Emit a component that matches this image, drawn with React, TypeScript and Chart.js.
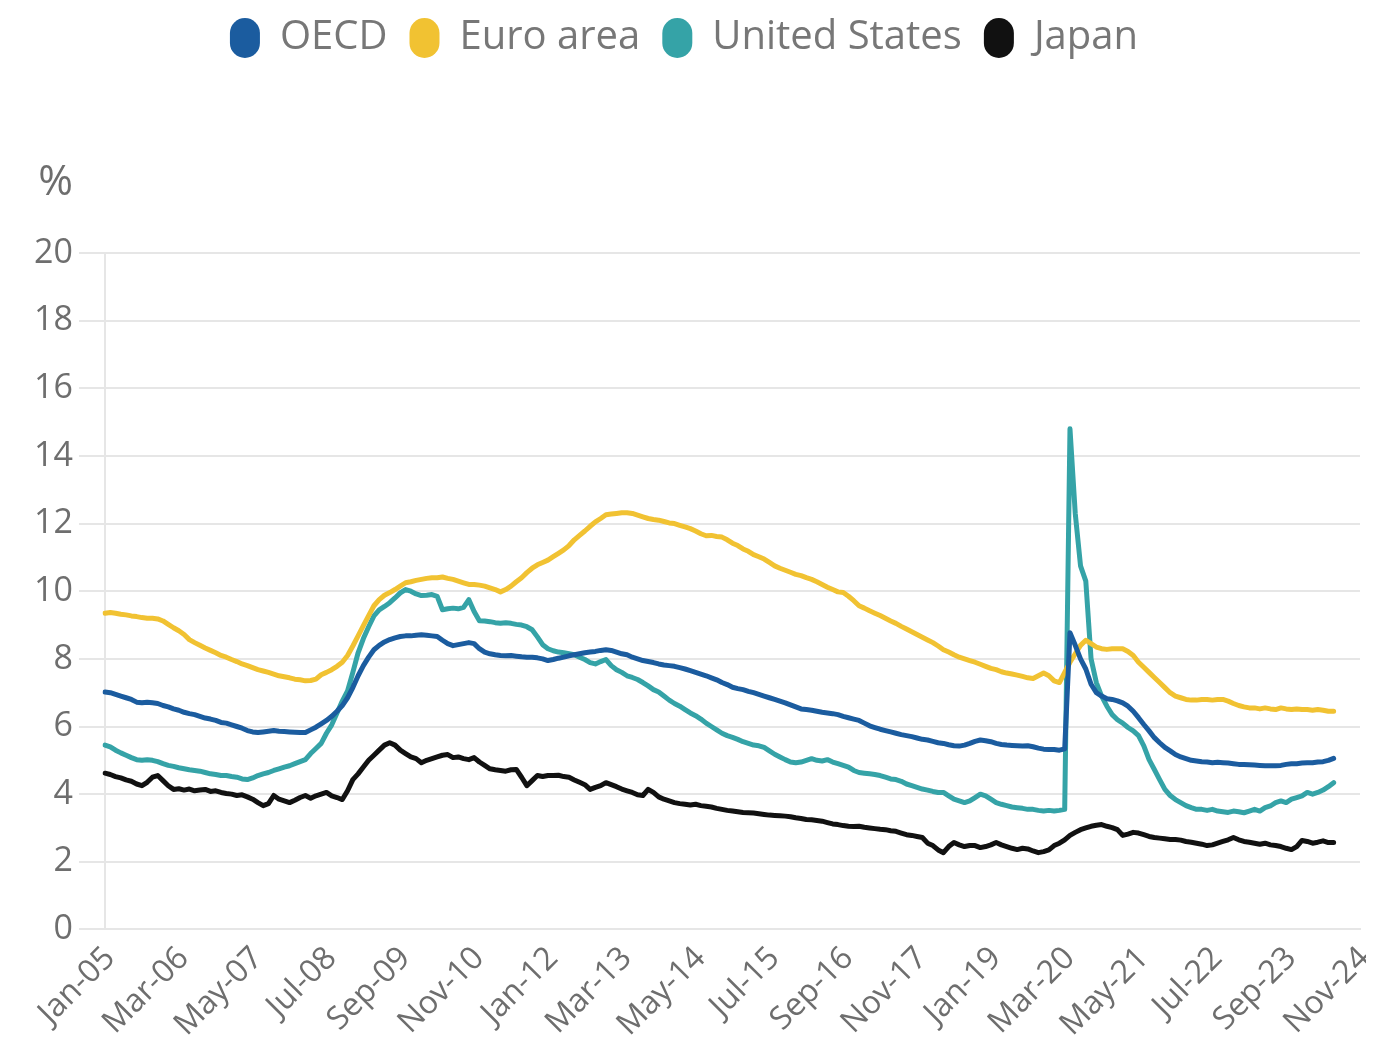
import { useEffect, useRef } from 'react';
import { Chart, registerables } from 'chart.js';

Chart.register(...registerables);

const MONTH_NAMES = ['Jan', 'Feb', 'Mar', 'Apr', 'May', 'Jun', 'Jul', 'Aug', 'Sep', 'Oct', 'Nov', 'Dec'];

// Monthly categories Jan-05 .. Nov-24
const categories: string[] = [];
for (let y = 2005; y <= 2024; y++) {
  for (let m = 0; m < 12; m++) {
    if (y === 2024 && m > 10) break;
    categories.push(`${MONTH_NAMES[m]}-${String(y).slice(2)}`);
  }
}

const tickLabels = [
  'Jan-05', 'Mar-06', 'May-07', 'Jul-08', 'Sep-09', 'Nov-10', 'Jan-12', 'Mar-13', 'May-14',
  'Jul-15', 'Sep-16', 'Nov-17', 'Jan-19', 'Mar-20', 'May-21', 'Jul-22', 'Sep-23', 'Nov-24',
];

const yTicks = [0, 2, 4, 6, 8, 10, 12, 14, 16, 18, 20];

// Monthly values Jan-05 .. Jun-24 (one row per year)
const oecd = [
  7.02, 7.00, 6.95, 6.90, 6.85, 6.80, 6.72, 6.70, 6.72, 6.70, 6.68, 6.62,
  6.58, 6.52, 6.48, 6.42, 6.38, 6.35, 6.30, 6.25, 6.22, 6.18, 6.12, 6.10,
  6.05, 6.00, 5.95, 5.88, 5.84, 5.82, 5.84, 5.86, 5.88, 5.86, 5.85, 5.84,
  5.83, 5.82, 5.82, 5.90, 5.98, 6.08, 6.18, 6.30, 6.45, 6.62, 6.85, 7.15,
  7.50, 7.80, 8.05, 8.27, 8.40, 8.50, 8.57, 8.62, 8.66, 8.68, 8.68, 8.70,
  8.71, 8.70, 8.68, 8.66, 8.55, 8.45, 8.39, 8.42, 8.45, 8.48, 8.45, 8.30,
  8.20, 8.15, 8.12, 8.10, 8.09, 8.10, 8.08, 8.06, 8.05, 8.05, 8.03, 8.00,
  7.95, 7.98, 8.02, 8.05, 8.09, 8.12, 8.15, 8.18, 8.20, 8.22, 8.25, 8.27,
  8.25, 8.20, 8.15, 8.12, 8.05, 8.00, 7.95, 7.92, 7.89, 7.85, 7.82, 7.80,
  7.78, 7.74, 7.70, 7.65, 7.60, 7.55, 7.50, 7.44, 7.38, 7.30, 7.24, 7.16,
  7.12, 7.09, 7.04, 7.00, 6.95, 6.90, 6.85, 6.80, 6.75, 6.70, 6.64, 6.58,
  6.52, 6.50, 6.48, 6.45, 6.42, 6.40, 6.38, 6.35, 6.30, 6.26, 6.22, 6.18,
  6.10, 6.02, 5.97, 5.92, 5.88, 5.84, 5.80, 5.76, 5.73, 5.70, 5.66, 5.62,
  5.60, 5.56, 5.52, 5.50, 5.46, 5.43, 5.42, 5.45, 5.50, 5.56, 5.60, 5.58,
  5.55, 5.50, 5.47, 5.45, 5.44, 5.43, 5.42, 5.43, 5.40, 5.36, 5.33, 5.32,
  5.32, 5.30, 5.34, 8.77, 8.40, 8.00, 7.70, 7.25, 7.00, 6.90, 6.82, 6.80,
  6.76, 6.70, 6.60, 6.45, 6.26, 6.06, 5.87, 5.67, 5.52, 5.38, 5.28, 5.17,
  5.10, 5.05, 5.00, 4.98, 4.96, 4.95, 4.93, 4.94, 4.93, 4.92, 4.90, 4.88,
  4.88, 4.87, 4.86, 4.85, 4.84, 4.84, 4.84, 4.85, 4.88, 4.90, 4.90, 4.92,
  4.93, 4.93, 4.95, 4.96, 5.00, 5.06,
];

const euroArea = [
  9.35, 9.37, 9.35, 9.32, 9.30, 9.27, 9.25, 9.22, 9.20, 9.20, 9.18, 9.12,
  9.02, 8.92, 8.83, 8.72, 8.57, 8.48, 8.40, 8.32, 8.25, 8.18, 8.10, 8.05,
  7.98, 7.92, 7.85, 7.80, 7.74, 7.68, 7.64, 7.60, 7.55, 7.50, 7.47, 7.44,
  7.40, 7.38, 7.35, 7.36, 7.40, 7.53, 7.60, 7.68, 7.78, 7.90, 8.10, 8.38,
  8.68, 8.98, 9.28, 9.57, 9.75, 9.88, 9.96, 10.05, 10.15, 10.25, 10.28, 10.32,
  10.35, 10.38, 10.40, 10.40, 10.42, 10.38, 10.35, 10.30, 10.25, 10.20, 10.20, 10.18,
  10.15, 10.10, 10.05, 9.98, 10.05, 10.15, 10.28, 10.40, 10.55, 10.68, 10.78, 10.85,
  10.92, 11.02, 11.12, 11.22, 11.35, 11.52, 11.65, 11.78, 11.92, 12.05, 12.15, 12.26,
  12.28, 12.30, 12.32, 12.32, 12.30, 12.25, 12.20, 12.15, 12.12, 12.10, 12.06, 12.02,
  12.00, 11.95, 11.90, 11.85, 11.78, 11.70, 11.64, 11.65, 11.62, 11.60, 11.52, 11.42,
  11.35, 11.25, 11.18, 11.08, 11.02, 10.95, 10.85, 10.75, 10.68, 10.62, 10.56, 10.50,
  10.46, 10.40, 10.35, 10.28, 10.20, 10.12, 10.05, 9.98, 9.96, 9.85, 9.72, 9.57,
  9.50, 9.42, 9.35, 9.28, 9.20, 9.12, 9.05, 8.96, 8.88, 8.80, 8.72, 8.64,
  8.56, 8.48, 8.38, 8.27, 8.20, 8.12, 8.05, 8.00, 7.95, 7.90, 7.84, 7.78,
  7.72, 7.68, 7.62, 7.58, 7.55, 7.52, 7.48, 7.44, 7.42, 7.50, 7.58, 7.50,
  7.35, 7.30, 7.60, 7.90, 8.15, 8.40, 8.55, 8.45, 8.35, 8.30, 8.28, 8.30,
  8.30, 8.30, 8.22, 8.10, 7.90, 7.75, 7.60, 7.45, 7.30, 7.15, 7.00, 6.90,
  6.85, 6.80, 6.78, 6.78, 6.80, 6.80, 6.78, 6.80, 6.80, 6.75, 6.68, 6.62,
  6.58, 6.55, 6.55, 6.52, 6.55, 6.52, 6.50, 6.55, 6.52, 6.50, 6.52, 6.50,
  6.50, 6.48, 6.50, 6.48, 6.45, 6.45,
];

const unitedStates = [
  5.45, 5.40, 5.30, 5.22, 5.15, 5.08, 5.02, 5.00, 5.02, 5.00, 4.96, 4.90,
  4.85, 4.82, 4.78, 4.75, 4.72, 4.70, 4.68, 4.64, 4.60, 4.58, 4.55, 4.55,
  4.52, 4.50, 4.45, 4.43, 4.48, 4.55, 4.60, 4.64, 4.70, 4.75, 4.80, 4.84,
  4.90, 4.96, 5.02, 5.20, 5.35, 5.50, 5.80, 6.05, 6.40, 6.75, 7.05, 7.60,
  8.18, 8.60, 8.95, 9.27, 9.45, 9.55, 9.66, 9.80, 9.95, 10.05, 10.00, 9.92,
  9.87, 9.88, 9.90, 9.85, 9.45, 9.48, 9.50, 9.48, 9.52, 9.75, 9.40, 9.13,
  9.12, 9.10, 9.07, 9.05, 9.07, 9.05, 9.02, 9.00, 8.95, 8.86, 8.65, 8.42,
  8.30, 8.24, 8.20, 8.18, 8.15, 8.12, 8.05, 7.98, 7.89, 7.85, 7.92, 7.98,
  7.80, 7.68, 7.60, 7.50, 7.45, 7.39, 7.30, 7.20, 7.09, 7.02, 6.90, 6.78,
  6.68, 6.60, 6.50, 6.40, 6.32, 6.22, 6.10, 6.00, 5.90, 5.80, 5.73, 5.68,
  5.62, 5.55, 5.50, 5.45, 5.43, 5.38, 5.28, 5.18, 5.10, 5.02, 4.95, 4.93,
  4.95, 5.00, 5.05, 5.00, 4.98, 5.02, 4.95, 4.90, 4.85, 4.80, 4.70, 4.64,
  4.62, 4.60, 4.58, 4.55, 4.50, 4.45, 4.43, 4.38, 4.30, 4.25, 4.20, 4.15,
  4.12, 4.08, 4.05, 4.05, 3.95, 3.85, 3.80, 3.75, 3.80, 3.90, 4.00, 3.95,
  3.85, 3.75, 3.70, 3.66, 3.62, 3.60, 3.58, 3.55, 3.55, 3.52, 3.50, 3.52,
  3.50, 3.52, 3.55, 14.80, 12.30, 10.75, 10.30, 8.00, 7.30, 6.90, 6.60, 6.35,
  6.20, 6.10, 5.97, 5.87, 5.73, 5.43, 5.02, 4.73, 4.43, 4.14, 3.96, 3.84,
  3.75, 3.66, 3.60, 3.55, 3.55, 3.52, 3.55, 3.50, 3.48, 3.46, 3.50, 3.48,
  3.45, 3.50, 3.55, 3.50, 3.60, 3.65, 3.75, 3.80, 3.75, 3.85, 3.90, 3.95,
  4.05, 4.00, 4.05, 4.12, 4.22, 4.34,
];

const japan = [
  4.62, 4.58, 4.52, 4.48, 4.42, 4.38, 4.30, 4.25, 4.35, 4.50, 4.55, 4.40,
  4.25, 4.14, 4.16, 4.12, 4.15, 4.10, 4.12, 4.14, 4.08, 4.10, 4.05, 4.02,
  4.00, 3.96, 3.98, 3.92, 3.85, 3.75, 3.66, 3.72, 3.96, 3.85, 3.80, 3.75,
  3.82, 3.90, 3.96, 3.88, 3.95, 4.00, 4.05, 3.95, 3.90, 3.84, 4.10, 4.43,
  4.60, 4.80, 5.00, 5.15, 5.30, 5.45, 5.52, 5.45, 5.30, 5.20, 5.10, 5.05,
  4.93, 5.00, 5.05, 5.10, 5.15, 5.17, 5.08, 5.10, 5.05, 5.02, 5.08, 4.95,
  4.85, 4.75, 4.72, 4.70, 4.68, 4.72, 4.73, 4.50, 4.25, 4.40, 4.55, 4.52,
  4.55, 4.55, 4.56, 4.52, 4.50, 4.42, 4.35, 4.28, 4.14, 4.20, 4.25, 4.34,
  4.28, 4.22, 4.15, 4.10, 4.05, 3.98, 3.96, 4.14, 4.05, 3.92, 3.85, 3.80,
  3.75, 3.72, 3.70, 3.68, 3.70, 3.66, 3.64, 3.62, 3.58, 3.55, 3.52, 3.50,
  3.48, 3.46, 3.45, 3.44, 3.42, 3.40, 3.38, 3.37, 3.36, 3.35, 3.33, 3.30,
  3.28, 3.25, 3.24, 3.22, 3.20, 3.16, 3.12, 3.10, 3.07, 3.05, 3.04, 3.05,
  3.02, 3.00, 2.98, 2.96, 2.95, 2.92, 2.90, 2.85, 2.80, 2.78, 2.75, 2.72,
  2.55, 2.48, 2.35, 2.27, 2.45, 2.57, 2.50, 2.45, 2.48, 2.48, 2.42, 2.45,
  2.50, 2.57, 2.50, 2.45, 2.40, 2.36, 2.40, 2.38, 2.32, 2.27, 2.30, 2.35,
  2.48, 2.55, 2.65, 2.78, 2.87, 2.95, 3.00, 3.05, 3.08, 3.10, 3.05, 3.01,
  2.95, 2.78, 2.82, 2.87, 2.85, 2.80, 2.75, 2.72, 2.70, 2.68, 2.66, 2.66,
  2.64, 2.60, 2.58, 2.55, 2.52, 2.48, 2.50, 2.55, 2.60, 2.65, 2.72, 2.65,
  2.60, 2.58, 2.55, 2.52, 2.55, 2.50, 2.48, 2.45, 2.40, 2.36, 2.45, 2.63,
  2.60, 2.55, 2.58, 2.62, 2.57, 2.57,
];

const seriesNames = ['OECD', 'Euro area', 'United States', 'Japan'];
const seriesColors = ['#1b5c9f', '#f1c232', '#35a3a7', '#111111'];

const FONT = '"Open Sans", "Noto Sans", sans-serif';

const legendGap = {
  id: 'legendGap',
  beforeInit(chart: any) {
    const legend = chart.legend;
    if (!legend) return;
    const orig = legend.fit;
    legend.fit = function () {
      orig.call(this);
      this.height += 185;
    };
  },
};

const percentLabel = {
  id: 'percentLabel',
  afterDraw(chart: any) {
    const { ctx } = chart;
    const ys = chart.scales.y;
    ctx.save();
    ctx.font = `42px ${FONT}`;
    ctx.fillStyle = '#6e6e6e';
    ctx.textAlign = 'right';
    ctx.textBaseline = 'middle';
    ctx.fillText('%', ys.right - 32, chart.chartArea.top - 70);
    ctx.restore();
  },
};

export default function App() {
  const canvasRef = useRef<HTMLCanvasElement | null>(null);

  useEffect(() => {
    if (!canvasRef.current) return;
    const values = [oecd, euroArea, unitedStates, japan];
    const chart = new Chart(canvasRef.current, {
      type: 'line',
      data: {
        labels: categories,
        datasets: seriesNames.map((name, k) => ({
          label: name,
          data: values[k],
          borderColor: seriesColors[k],
          backgroundColor: seriesColors[k],
          borderWidth: 5,
          pointRadius: 0,
          tension: 0,
          borderJoinStyle: 'round' as const,
          borderCapStyle: 'round' as const,
        })),
      },
      options: {
        responsive: true,
        maintainAspectRatio: false,
        animation: false,
        layout: { padding: { left: 0, right: 6, top: -12, bottom: 0 } },
        plugins: {
          tooltip: { enabled: false },
          legend: {
            position: 'top',
            align: 'center',
            labels: {
              boxWidth: 30,
              boxHeight: 40,
              useBorderRadius: true,
              borderRadius: 15,
              padding: 22,
              color: '#777777',
              font: { family: FONT, size: 40 },
              generateLabels: (c: any) =>
                Chart.defaults.plugins.legend.labels
                  .generateLabels(c)
                  .map((l: any) => ({ ...l, lineWidth: 0 })),
            },
          },
        },
        scales: {
          x: {
            type: 'category',
            grid: { display: false },
            border: { display: true, color: '#e6e6e6', width: 2 },
            afterFit: (scale: any) => {
              scale.paddingRight = 0;
              scale.height -= 2;
            },
            ticks: {
              autoSkip: false,
              minRotation: 45,
              maxRotation: 45,
              padding: 2,
              labelOffset: 5,
              color: '#6e6e6e',
              font: { family: FONT, size: 32 },
              callback: (_v: any, idx: number) =>
                tickLabels.includes(categories[idx]) ? categories[idx] : null,
            },
          },
          y: {
            min: 0,
            max: 20,
            afterFit: (scale: any) => {
              scale.width = 97;
            },
            afterBuildTicks: (scale: any) => {
              scale.ticks = yTicks.map((v) => ({ value: v }));
            },
            grid: {
              color: '#e6e6e6',
              lineWidth: 2,
              drawTicks: true,
              tickLength: 26,
            },
            border: { display: true, color: '#e6e6e6', width: 2 },
            ticks: {
              padding: 6,
              color: '#6e6e6e',
              font: { family: FONT, size: 34 },
            },
          },
        },
      },
      plugins: [legendGap, percentLabel],
    });
    return () => chart.destroy();
  }, []);

  return (
    <div style={{ position: 'relative', width: '1358px', height: '1036px' }}>
      <canvas ref={canvasRef} />
    </div>
  );
}
